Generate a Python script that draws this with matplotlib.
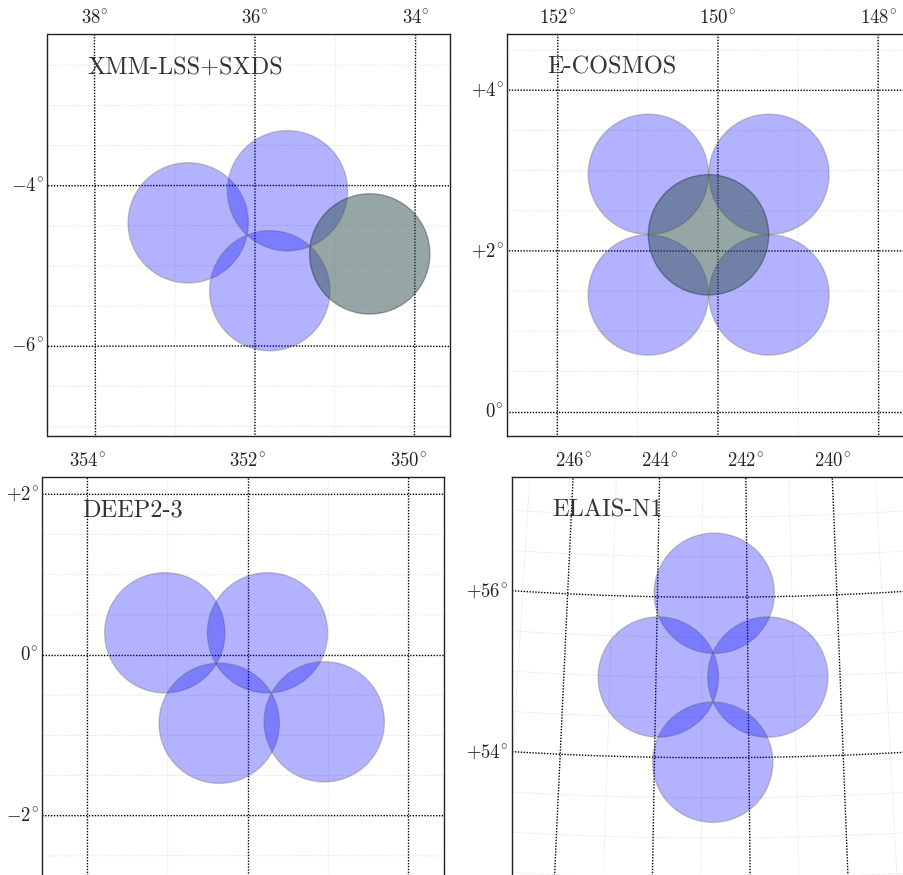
#!/usr/bin/env python3
"""Pointing layout of the four survey fields on tangent-plane sky maps."""
import matplotlib
matplotlib.use("Agg")
import matplotlib.pyplot as plt
import numpy as np
from matplotlib.patches import Circle

plt.rcParams["font.family"] = ["cmr10", "DejaVu Serif"]
plt.rcParams["mathtext.fontset"] = "cm"
plt.rcParams["axes.formatter.use_mathtext"] = True

FIG_W, FIG_H = 904, 875
AX_SIZE = 402
HALF_WIDTH = 2.505  # degrees from map centre to edge
FOV_RADIUS = 0.75

field_names = ["XMM-LSS+SXDS", "E-COSMOS", "DEEP2-3", "ELAIS-N1"]

# map centres
centre_ra = [36.081, 150.118, 352.056, 242.75]
centre_dec = [-4.611, 2.206, -0.280, 55.0]

# blue pointings
xmm_ra = [36.835, 35.594, 35.815]
xmm_dec = [-4.465, -4.065, -5.311]
cosmos_ra = [150.869, 149.364, 150.869, 149.364]
cosmos_dec = [2.956, 2.956, 1.452, 1.452]
deep_ra = [353.037, 351.757, 352.359, 351.050]
deep_dec = [0.277, 0.277, -0.850, -0.832]
elais_ra = [242.734, 243.95, 241.57, 242.767]
elais_dec = [56.05, 55.0, 55.0, 53.945]

# dark pointings
xmm_dark_ra = [34.565]
xmm_dark_dec = [-4.851]
cosmos_dark_ra = [150.118]
cosmos_dark_dec = [2.202]

blue_ra = [xmm_ra, cosmos_ra, deep_ra, elais_ra]
blue_dec = [xmm_dec, cosmos_dec, deep_dec, elais_dec]
dark_ra = [xmm_dark_ra, cosmos_dark_ra, [], []]
dark_dec = [xmm_dark_dec, cosmos_dark_dec, [], []]

# graticule, labelled lines and the fainter ones between them
ra_major = [[40, 38, 36, 34, 32], [154, 152, 150, 148, 146],
            [356, 354, 352, 350, 348], [248, 246, 244, 242, 240, 238]]
ra_minor = [[39, 37, 35, 33], [153, 151, 149, 147],
            [355, 353, 351, 349], [249, 247, 245, 243, 241, 239, 237]]
dec_major = [[-2, -4, -6, -8], [6, 4, 2, 0, -2], [4, 2, 0, -2, -4], [58, 56, 54, 52]]
dec_minor = [[-1.5, -2.5, -3, -3.5, -4.5, -5, -5.5, -6.5, -7, -7.5],
             [4.5, 3.5, 3, 2.5, 1.5, 1, 0.5, -0.5],
             [2.5, 1.5, 1, 0.5, -0.5, -1, -1.5, -2.5, -3],
             [57.5, 57, 56.5, 55.5, 55, 54.5, 53.5, 53, 52.5]]

# left, top of each panel in pixels
panel_left = [47.5, 507.5, 42.5, 512.5]
panel_top = [33.5, 33.5, 476.5, 476.5]


def project(ra, dec, ra0, dec0):
    """Gnomonic projection, returns offsets in degrees."""
    ra, dec = np.radians(ra), np.radians(dec)
    ra0, dec0 = np.radians(ra0), np.radians(dec0)
    cosc = np.sin(dec0) * np.sin(dec) + np.cos(dec0) * np.cos(dec) * np.cos(ra - ra0)
    xi = np.cos(dec) * np.sin(ra - ra0) / cosc
    eta = (np.cos(dec0) * np.sin(dec) - np.sin(dec0) * np.cos(dec) * np.cos(ra - ra0)) / cosc
    return np.degrees(xi), np.degrees(eta)


def signed(value):
    if value > 0:
        return rf"$+{value}^{{\!\circ}}$"
    if value < 0:
        return rf"$-{abs(value)}^{{\!\circ}}$"
    return r"$0^{\!\circ}$"


def draw_graticule(ax, i):
    ra0, dec0 = centre_ra[i], centre_dec[i]
    dec_span = np.linspace(dec0 - 6, dec0 + 6, 200)
    ra_span = np.linspace(ra0 - 9, ra0 + 9, 300)

    for ra in ra_minor[i]:
        ax.plot(*project(ra, dec_span, ra0, dec0), color="#d4d4d4", lw=0.6, ls=":", zorder=1)
    for dec in dec_minor[i]:
        ax.plot(*project(ra_span, dec, ra0, dec0), color="#d4d4d4", lw=0.6, ls=":", zorder=1)

    for ra in ra_major[i]:
        xi, eta = project(ra, dec_span, ra0, dec0)
        ax.plot(xi, eta, color="black", lw=1.0, ls=(0, (1, 1.1)), zorder=2)
        top = np.interp(HALF_WIDTH, eta, xi)
        if abs(top) < HALF_WIDTH:
            ax.annotate(rf"${ra}^{{\!\circ}}$", xy=(top, 1), xycoords=("data", "axes fraction"),
                        xytext=(0, 7), textcoords="offset pixels",
                        ha="center", va="bottom", fontsize=13.5, color="#222222")

    for dec in dec_major[i]:
        xi, eta = project(ra_span, dec, ra0, dec0)
        ax.plot(xi, eta, color="black", lw=1.0, ls=(0, (1, 1.1)), zorder=2)
        left = np.interp(HALF_WIDTH, xi, eta)
        if abs(left) < HALF_WIDTH:
            ax.annotate(signed(dec), xy=(0, left), xycoords=("axes fraction", "data"),
                        xytext=(-4, 0), textcoords="offset pixels",
                        ha="right", va="center", fontsize=13.5, color="#222222")


def draw_pointings(ax, i):
    ra0, dec0 = centre_ra[i], centre_dec[i]
    for ra, dec in zip(blue_ra[i], blue_dec[i]):
        ax.add_patch(Circle(project(ra, dec, ra0, dec0), FOV_RADIUS, facecolor=(0, 0, 1, 0.3),
                            edgecolor=(0.35, 0.35, 0.2, 0.28), lw=1.0, zorder=3))
    for ra, dec in zip(dark_ra[i], dark_dec[i]):
        ax.add_patch(Circle(project(ra, dec, ra0, dec0), FOV_RADIUS,
                            facecolor=(47 / 255, 79 / 255, 79 / 255, 0.5),
                            edgecolor=(0, 0, 0, 0.3), lw=1.0, zorder=4))


fig = plt.figure(figsize=(FIG_W / 100, FIG_H / 100), dpi=100)

for i, name in enumerate(field_names):
    ax = fig.add_axes([panel_left[i] / FIG_W, 1 - (panel_top[i] + AX_SIZE) / FIG_H,
                       AX_SIZE / FIG_W, AX_SIZE / FIG_H])
    draw_graticule(ax, i)
    draw_pointings(ax, i)
    ax.set_xlim(HALF_WIDTH, -HALF_WIDTH)
    ax.set_ylim(-HALF_WIDTH, HALF_WIDTH)
    ax.set_xticks([])
    ax.set_yticks([])
    for spine in ax.spines.values():
        spine.set_linewidth(1.0)
        spine.set_color("#222222")
    ax.text(0.1, 0.9, name, transform=ax.transAxes, fontsize=17.5, color="#333333", zorder=5)

fig.savefig("out.png", dpi=100)
